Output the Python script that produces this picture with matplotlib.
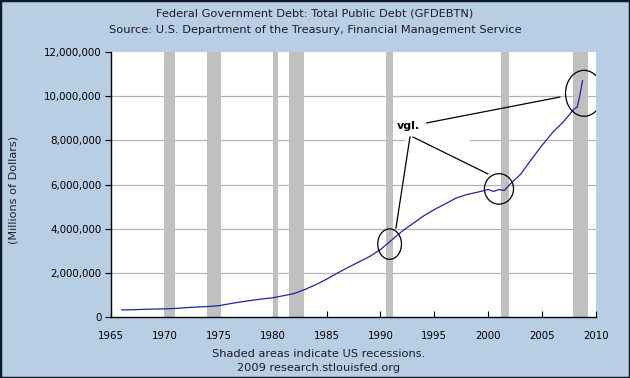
import matplotlib
matplotlib.use("Agg")
import matplotlib.pyplot as plt
from matplotlib.patches import Ellipse, Rectangle
from matplotlib.ticker import FuncFormatter

# Data (millions of dollars)
years = [1966.0, 1967.0, 1968.0, 1969.0, 1970.0, 1971.0, 1972.0, 1973.0, 1974.0,
         1975.0, 1976.0, 1977.0, 1978.0, 1979.0, 1980.0, 1981.0, 1982.0, 1983.0,
         1984.0, 1985.0, 1986.0, 1987.0, 1988.0, 1989.0, 1990.0, 1991.0, 1992.0,
         1993.0, 1994.0, 1995.0, 1996.0, 1997.0, 1998.0, 1999.0, 2000.0, 2000.5,
         2001.0, 2001.5, 2002.0, 2003.0, 2004.0, 2005.0, 2006.0, 2007.0, 2008.0,
         2008.25, 2008.5, 2008.75]
debt = [321000, 329000, 344000, 359000, 369000, 388000, 424000, 451000, 474000,
        509000, 599000, 680000, 750000, 816000, 868000, 964000, 1063000, 1248000,
        1463000, 1711000, 1986000, 2245000, 2494000, 2740000, 3053000, 3465000, 3881000,
        4230000, 4575000, 4865000, 5118000, 5380000, 5543000, 5651000, 5773000, 5686000,
        5774000, 5727000, 6006000, 6460000, 7131000, 7776000, 8371000, 8849000, 9437000,
        9492000, 10024000, 10700000]

recessions = [(1969.9, 1970.9), (1973.9, 1975.2), (1980.0, 1980.5),
              (1981.5, 1982.9), (1990.5, 1991.2), (2001.2, 2001.9), (2007.9, 2009.3)]

x_ticks = [1965, 1970, 1975, 1980, 1985, 1990, 1995, 2000, 2005, 2010]
y_ticks = [0, 2000000, 4000000, 6000000, 8000000, 10000000, 12000000]

# annotation circles: (center year, center value, width years, height value)
circles = [(1990.85, 3300000, 2.2, 1380000),
           (2001.0, 5800000, 2.7, 1380000),
           (2008.9, 10130000, 3.45, 2080000)]
vgl_pos = (1992.6, 8650000)
pointer_lines = [((1994.3, 8790000), (2006.65, 9960000)),
                 ((1992.74, 8150000), (1991.44, 4030000)),
                 ((1993.02, 8150000), (1999.97, 6480000))]

bg = '#b7cee5'
fig = plt.figure(figsize=(6.3, 3.78), dpi=100, facecolor=bg)
ax = fig.add_axes([0.1762, 0.1614, 0.7698, 0.701])
ax.set_facecolor('white')

ax.set_xlim(1965, 2010)
ax.set_ylim(0, 12000000)

for gy in y_ticks[1:-1]:
    ax.axhline(gy, color='#b4b4b4', lw=0.9, zorder=1)

# white patch behind annotation text
ax.add_patch(Rectangle((1992.3, 7650000), 6.0, 1350000, facecolor='white',
                       edgecolor='none', zorder=1.5))

for a, b in recessions:
    ax.axvspan(a, b, color='#c0c0c0', lw=0, zorder=2)

ax.plot(years, debt, color='#23239e', lw=0.9, zorder=3)

for cx, cy, w, h in circles:
    ax.add_patch(Ellipse((cx, cy), w, h, fill=False, edgecolor='black', lw=0.9, zorder=4))
for (x0, y0), (x1, y1) in pointer_lines:
    ax.plot([x0, x1], [y0, y1], color='black', lw=0.9, zorder=4)
ax.text(vgl_pos[0], vgl_pos[1], 'vgl.', fontsize=8, fontweight='bold',
        ha='center', va='center', zorder=5)

for s in ['top', 'right']:
    ax.spines[s].set_visible(False)
for s in ['left', 'bottom']:
    ax.spines[s].set_color('black')
    ax.spines[s].set_linewidth(1.0)
    ax.spines[s].set_zorder(6)

ax.set_xticks(x_ticks)
ax.set_yticks(y_ticks)
ax.yaxis.set_major_formatter(FuncFormatter(lambda v, p: f'{int(v):,}'))
ax.tick_params(axis='x', direction='in', length=4, labelsize=7.4, pad=10, colors='black')
ax.tick_params(axis='y', direction='out', length=4, labelsize=7.4, pad=3, colors='black')
ax.set_ylabel('(Millions of Dollars)', fontsize=8.1, color='#222222')
ax.yaxis.set_label_coords(-0.19, 0.48)

tc = '#1c1c2c'
fig.text(0.5, 0.963, 'Federal Government Debt: Total Public Debt (GFDEBTN)',
         ha='center', va='center', fontsize=8.2, color=tc)
fig.text(0.5, 0.921, 'Source: U.S. Department of the Treasury, Financial Management Service',
         ha='center', va='center', fontsize=8.2, color=tc)
fig.text(0.505, 0.064, 'Shaded areas indicate US recessions.',
         ha='center', va='center', fontsize=8.2, color=tc)
fig.text(0.505, 0.027, '2009 research.stlouisfed.org',
         ha='center', va='center', fontsize=8.2, color=tc)

fig.add_artist(Rectangle((0, 0), 1, 1, transform=fig.transFigure, fill=False,
                         edgecolor='#101828', lw=2.5))

fig.savefig('out.png', dpi=100, facecolor=bg)
